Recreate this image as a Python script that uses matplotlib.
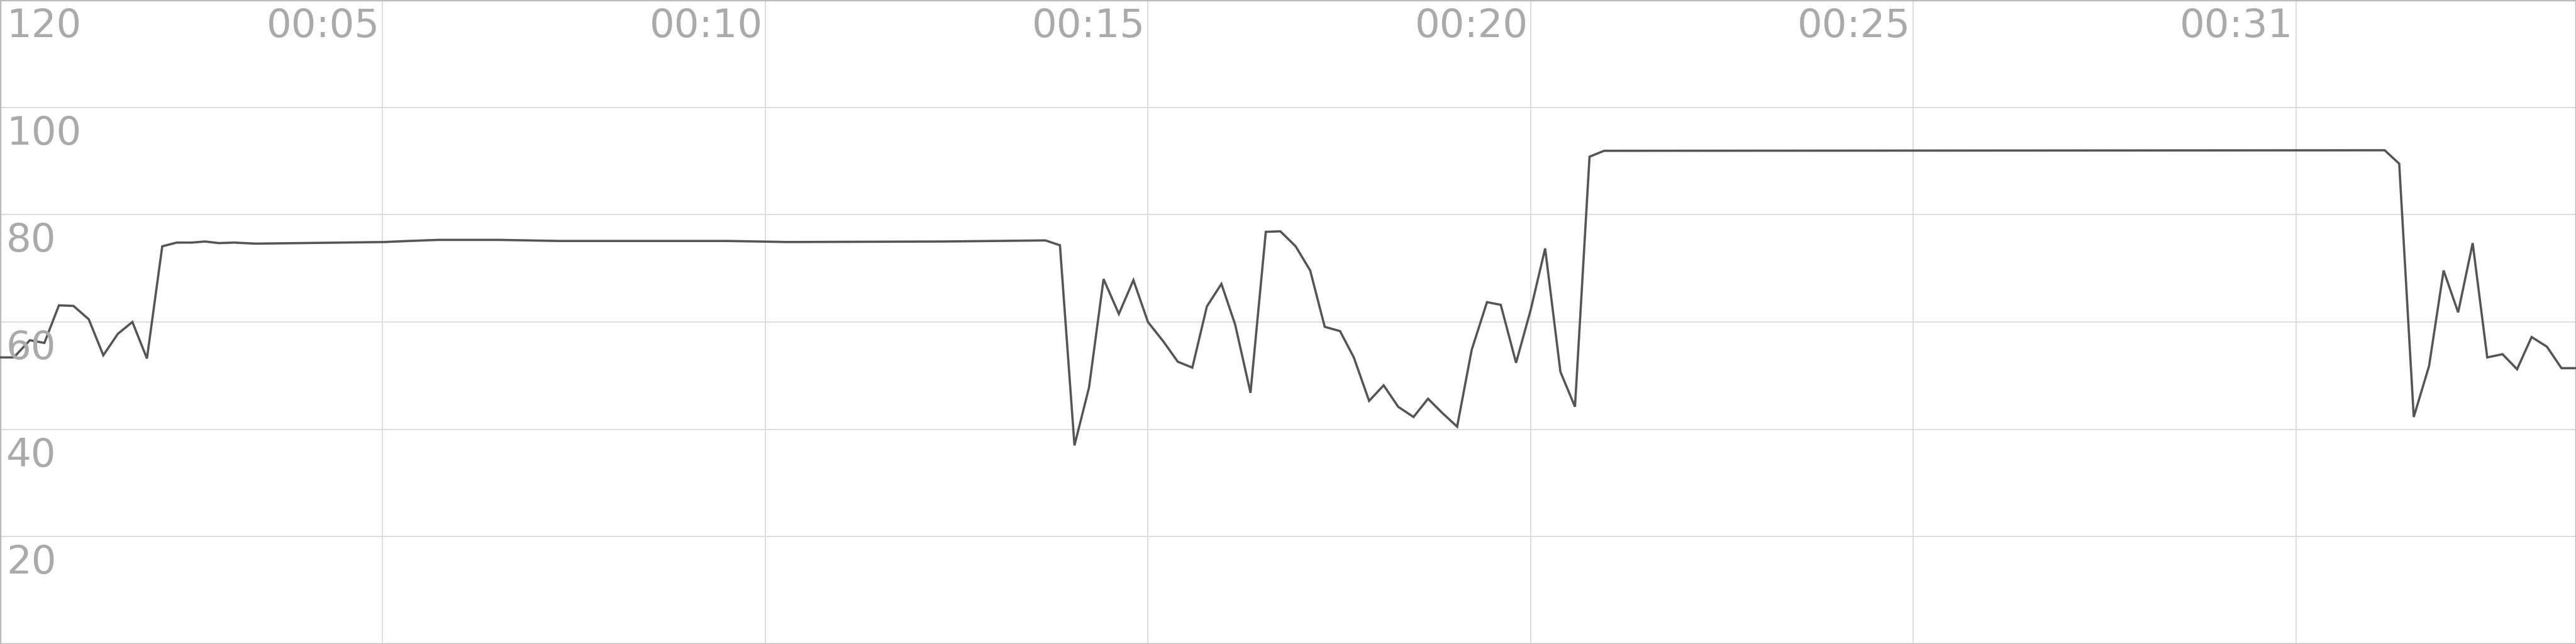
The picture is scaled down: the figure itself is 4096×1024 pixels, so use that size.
import matplotlib
matplotlib.use('Agg')
import matplotlib.pyplot as plt

# time in seconds
times = [0.00, 0.18, 0.39, 0.58, 0.77, 0.96, 1.16, 1.35, 1.54, 1.73,
         1.92, 2.12, 2.31, 2.51, 2.68, 2.86, 3.06, 3.34, 5.02, 5.34,
         5.73, 6.52, 7.31, 9.51, 10.29, 12.33, 13.66, 13.85, 14.04, 14.23,
         14.42, 14.62, 14.81, 15.00, 15.20, 15.39, 15.58, 15.77, 15.96, 16.14,
         16.34, 16.54, 16.73, 16.93, 17.12, 17.31, 17.51, 17.69, 17.89, 18.08,
         18.27, 18.47, 18.66, 18.85, 19.04, 19.23, 19.43, 19.61, 19.81, 20.00,
         20.19, 20.39, 20.58, 20.77, 20.96, 31.16, 31.35, 31.54, 31.74, 31.93,
         32.12, 32.31, 32.50, 32.70, 32.89, 33.08, 33.28, 33.47, 33.66]
values = [53.4, 53.4, 56.6, 56.1, 63.1, 63.0, 60.5, 53.8, 57.8, 60.0,
          53.2, 74.1, 74.8, 74.8, 75.0, 74.7, 74.8, 74.6, 74.9, 75.1,
          75.3, 75.3, 75.1, 75.1, 74.9, 75.0, 75.2, 74.3, 37.0, 47.8,
          68.0, 61.5, 67.8, 60.0, 56.4, 52.6, 51.5, 62.9, 67.1, 59.5,
          46.8, 76.8, 76.9, 74.1, 69.6, 59.1, 58.3, 53.4, 45.3, 48.2,
          44.2, 42.3, 45.7, 43.0, 40.5, 54.8, 63.7, 63.2, 52.4, 62.2,
          73.7, 50.7, 44.2, 90.8, 91.9, 92.0, 89.5, 42.3, 51.8, 69.6,
          61.8, 74.7, 53.4, 54.0, 51.2, 57.2, 55.4, 51.4, 51.4]

y_ticks = [20, 40, 60, 80, 100, 120]
x_ticks = [5, 10, 15, 20, 25, 30]
x_tick_labels = ['00:05', '00:10', '00:15', '00:20', '00:25', '00:31']

label_color = '#aaaaaa'
grid_color = '#dddddd'

fig = plt.figure(figsize=(40.96, 10.24), dpi=100)
ax = fig.add_axes([0, 0, 1, 1])

ax.plot(times, values, color='#555555', linewidth=2.6, solid_joinstyle='miter', zorder=3)

ax.set_xlim(0, 33.66)
ax.set_ylim(0, 120)
ax.set_xticks(x_ticks)
ax.set_yticks(y_ticks)
ax.grid(True, color=grid_color, linewidth=1.4)
ax.tick_params(length=0, labelbottom=False, labelleft=False)
for s in ax.spines.values():
    s.set_color('#bbbbbb')
    s.set_linewidth(2.5)

# y labels sit just under their grid line, at the left edge
for v in y_ticks:
    ax.annotate(str(v), xy=(0, v), xycoords=('axes fraction', 'data'),
                xytext=(10, -12), textcoords='offset pixels',
                ha='left', va='top', fontsize=45, color=label_color)

# time labels at the top, right aligned to their grid line
for t, lbl in zip(x_ticks, x_tick_labels):
    ax.annotate(lbl, xy=(t, 1), xycoords=('data', 'axes fraction'),
                xytext=(-4, -12), textcoords='offset pixels',
                ha='right', va='top', fontsize=45, color=label_color)

fig.savefig('out.png', dpi=100, facecolor='white')
